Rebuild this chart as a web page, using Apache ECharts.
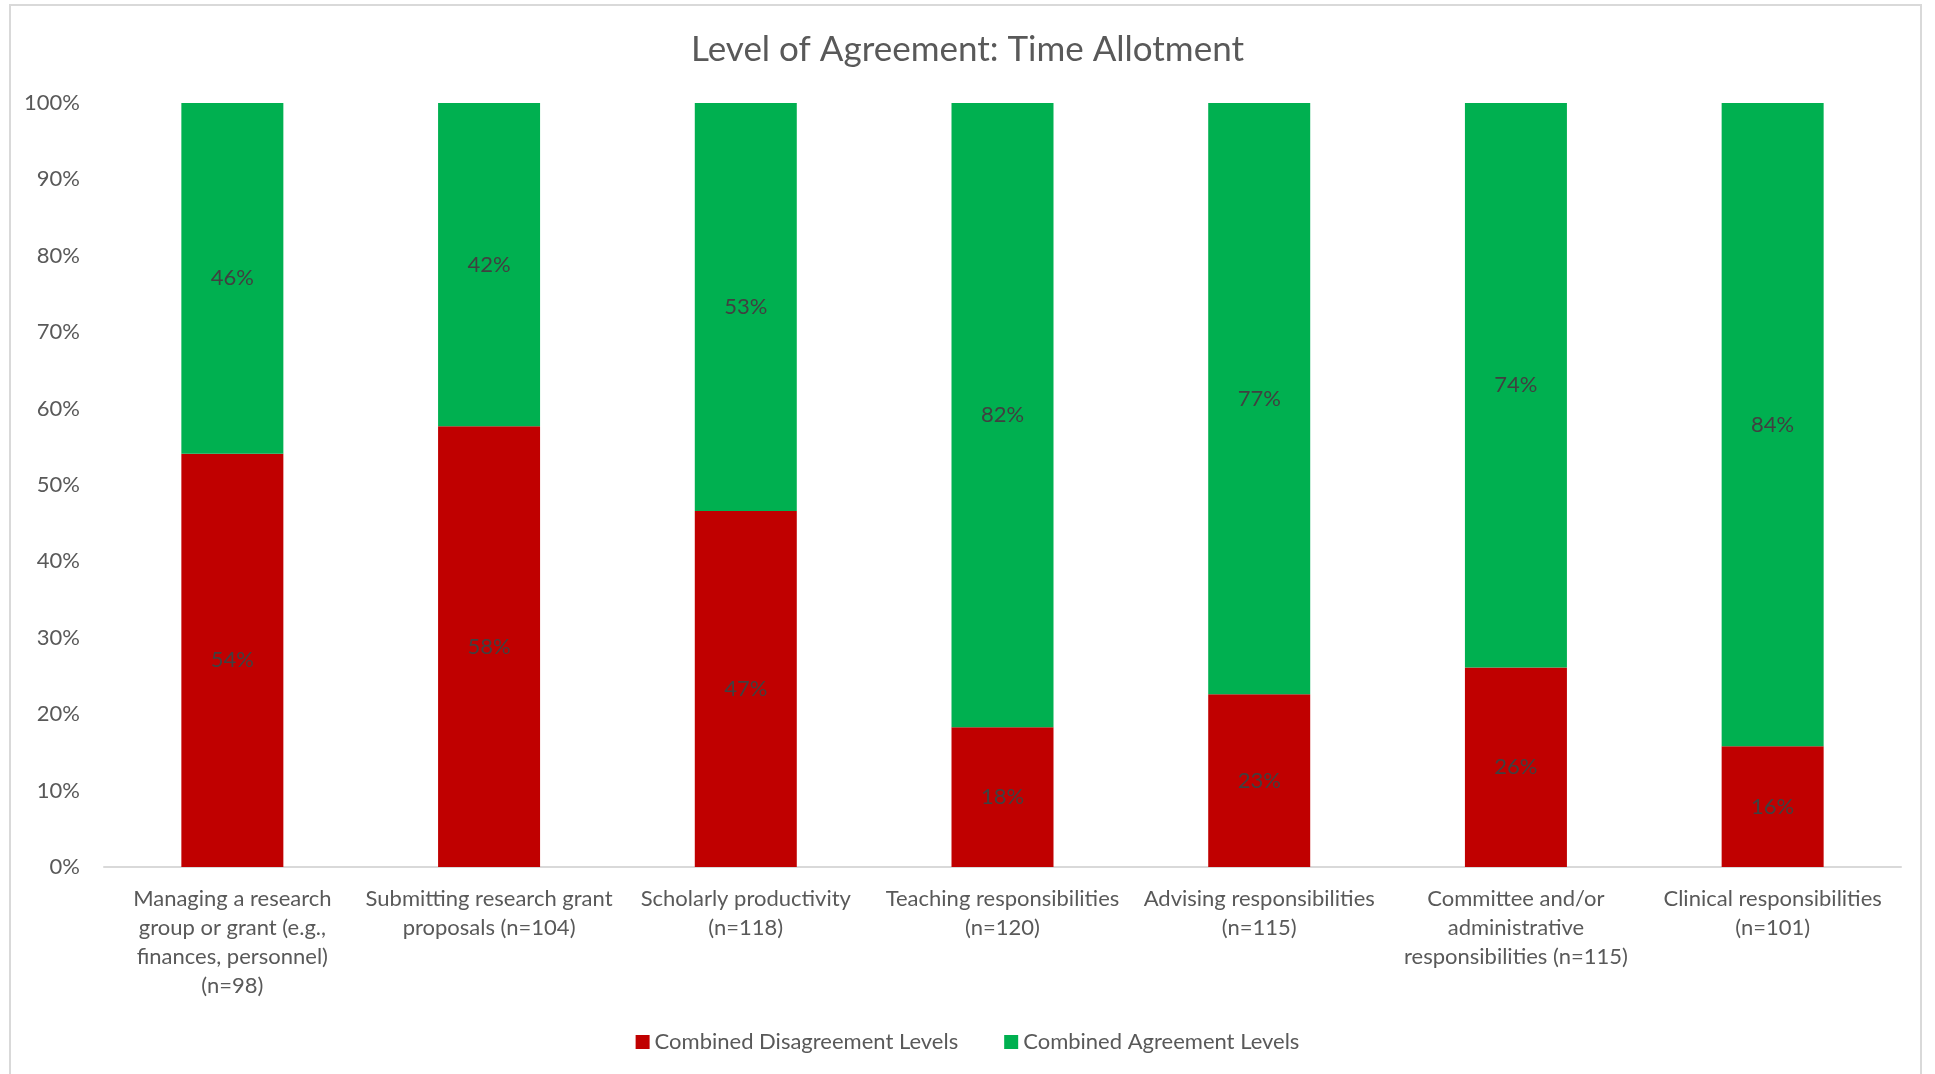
<!DOCTYPE html>
<html>
<head>
<meta charset="utf-8">
<script src="https://cdn.jsdelivr.net/npm/echarts@6/dist/echarts.min.js"></script>
<style>
    html, body { margin: 0; padding: 0; background: #fff; }
    #chart { width: 1935px; height: 1074px; }
</style>
</head>
<body>
<div id="chart"></div>
<script>
// categories, split over lines like the original
var categories = [
    'Managing a research\ngroup or grant (e.g.,\nfinances, personnel)\n(n=98)',
    'Submitting research grant\nproposals (n=104)',
    'Scholarly productivity\n(n=118)',
    'Teaching responsibilities\n(n=120)',
    'Advising responsibilities\n(n=115)',
    'Committee and/or\nadministrative\nresponsibilities (n=115)',
    'Clinical responsibilities\n(n=101)'
];

// percent of respondents
var disagree = [54.1, 57.7, 46.6, 18.3, 22.6, 26.1, 15.8];
var agree = [45.9, 42.3, 53.4, 81.7, 77.4, 73.9, 84.2];

var seriesNames = ['Combined Disagreement Levels', 'Combined Agreement Levels'];
var seriesColors = ['#c00000', '#00b050'];

var font = 'Lato, "Open Sans", sans-serif';

function pctLabel(p) {
    return Math.round(p.value) + '%';
}

var chart = echarts.init(document.getElementById('chart'));

chart.setOption({
    animation: false,
    textStyle: { fontFamily: font },
    title: {
        text: 'Level of Agreement: Time Allotment',
        left: 'center',
        top: 27,
        textStyle: {
            fontFamily: font,
            fontWeight: 'normal',
            fontSize: 35,
            color: '#595959'
        }
    },
    legend: {
        bottom: 16,
        left: 'center',
        itemWidth: 14,
        itemHeight: 14,
        itemGap: 46,
        icon: 'rect',
        data: seriesNames,
        textStyle: { fontFamily: font, fontSize: 22, color: '#595959' }
    },
    grid: {
        left: 104,
        right: 34,
        top: 103,
        bottom: 207
    },
    xAxis: {
        type: 'category',
        data: categories,
        axisLine: { lineStyle: { color: '#d9d9d9', width: 2 } },
        axisTick: { show: false },
        axisLabel: {
            interval: 0,
            margin: 17,
            fontFamily: font,
            fontSize: 22,
            lineHeight: 29,
            color: '#595959'
        }
    },
    yAxis: {
        type: 'value',
        min: 0,
        max: 100,
        interval: 10,
        axisLine: { show: false },
        axisTick: { show: false },
        splitLine: { show: false },
        axisLabel: {
            margin: 24,
            fontFamily: font,
            fontSize: 22,
            color: '#595959',
            formatter: '{value}%'
        }
    },
    series: [{
        name: seriesNames[0],
        type: 'bar',
        stack: 'total',
        barWidth: 102,
        data: disagree,
        itemStyle: { color: seriesColors[0] },
        label: {
            show: true,
            position: 'inside',
            formatter: pctLabel,
            fontFamily: font,
            fontSize: 22,
            color: '#404040'
        }
    }, {
        name: seriesNames[1],
        type: 'bar',
        stack: 'total',
        barWidth: 102,
        data: agree,
        itemStyle: { color: seriesColors[1] },
        label: {
            show: true,
            position: 'inside',
            formatter: pctLabel,
            fontFamily: font,
            fontSize: 22,
            color: '#404040'
        }
    }],
    graphic: [{
        type: 'rect',
        shape: { x: 10, y: 5, width: 1911, height: 1080 },
        style: { fill: 'none', stroke: '#d9d9d9', lineWidth: 2 },
        silent: true
    }]
});
</script>
</body>
</html>
